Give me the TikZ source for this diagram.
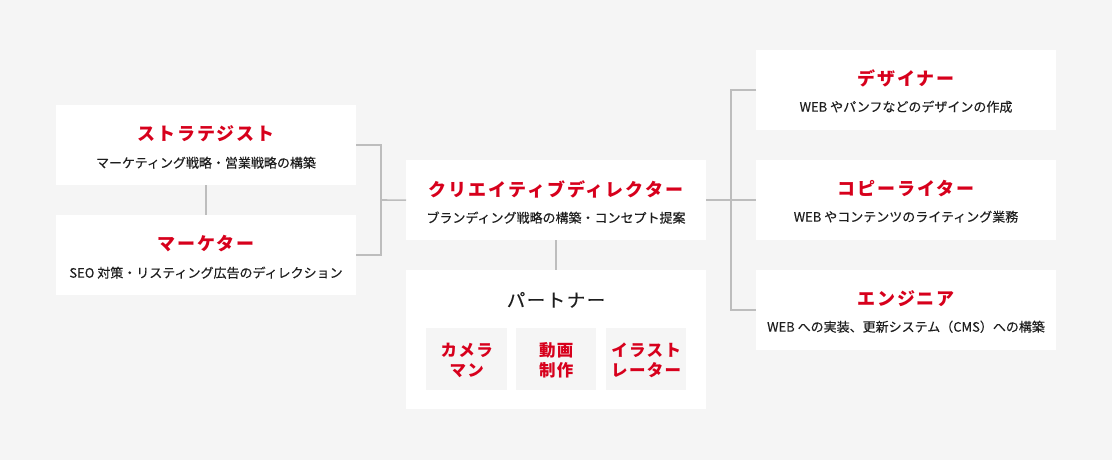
\documentclass[tikz,border=0pt]{standalone}
\usepackage{fontspec}
\setmainfont{Noto Sans CJK JP}
\newfontfamily\jpsp{Noto Sans CJK JP}[LetterSpace=11]
\newfontfamily\jpsb{Noto Sans CJK JP}[LetterSpace=8]
\newfontfamily\jpmd{Noto Sans CJK JP}[FakeBold=0.25]
\newfontfamily\jpmdsp{Noto Sans CJK JP}[FakeBold=0.25,LetterSpace=8]
\definecolor{bgc}{HTML}{F5F5F5}
\definecolor{redc}{HTML}{D7001C}
\definecolor{txtc}{HTML}{1E1E1E}
\definecolor{linec}{HTML}{BDBDBD}
\begin{document}
\begin{tikzpicture}[x=1pt,y=-1pt,
  box/.style={fill=white,draw=none,minimum width=300pt,minimum height=80pt,inner sep=0pt,anchor=north west},
  subbox/.style={fill=bgc,draw=none,minimum width=80pt,minimum height=62pt,inner sep=0pt,anchor=north west},
  ttl/.style={anchor=base,inner sep=0pt,text=redc,font=\jpsp\bfseries\fontsize{18}{20}\selectfont},
  sub/.style={anchor=base,inner sep=0pt,text=txtc,font=\jpmd\fontsize{13}{15}\selectfont},
  ptl/.style={anchor=base,inner sep=0pt,text=txtc,font=\jpmdsp\fontsize{18.5}{20}\selectfont},
  stl/.style={anchor=center,inner sep=0pt,text=redc,align=center,font=\jpsb\bfseries\fontsize{16.5}{20}\selectfont},
  conn/.style={draw=linec,line width=1.6pt}]
\fill[bgc] (0,0) rectangle (1112,460);
\useasboundingbox (0,0) rectangle (1112,460);
% boxes
\node[box] (strat) at (56,105) {};
\node[box] (mark) at (56,215) {};
\node[box] (cd) at (406,160) {};
\node[box,minimum height=139pt] (part) at (406,270) {};
\node[box] (des) at (756,50) {};
\node[box] (cop) at (756,160) {};
\node[box] (eng) at (756,270) {};
\node[subbox,minimum width=81pt] (cam) at (426,328) {};
\node[subbox] (movie) at (516,328) {};
\node[subbox] (illu) at (606,328) {};
% texts
\node[ttl] (stratT) at (206,140.5) {ストラテジスト};
\node[sub] (stratS) at (206,167.7) {マーケティング戦略・営業戦略の構築};
\node[ttl] (markT) at (206,250.5) {マーケター};
\node[sub] (markS) at (206,277.7) {SEO 対策・リスティング広告のディレクション};
\node[ttl] (cdT) at (556,196.5) {クリエイティブディレクター};
\node[sub] (cdS) at (556,222.7) {ブランディング戦略の構築・コンセプト提案};
\node[ptl] (partT) at (556,307) {パートナー};
\node[stl] (camT) at ([yshift=-1.5pt]cam.center) {カメラ\\マン};
\node[stl] (movieT) at ([yshift=-1.5pt]movie.center) {動画\\制作};
\node[stl] (illuT) at ([yshift=-1.5pt]illu.center) {イラスト\\レーター};
\node[ttl] (desT) at (906,85.5) {デザイナー};
\node[sub] (desS) at (906,111.7) {WEB やパンフなどのデザインの作成};
\node[ttl] (copT) at (906,195.5) {コピーライター};
\node[sub] (copS) at (906,221.7) {WEB やコンテンツのライティング業務};
\node[ttl] (engT) at (906,305.5) {エンジニア};
\node[sub] (engS) at (906,331.7) {WEB への実装、更新システム（CMS）への構築};
% connectors
\coordinate (bl) at (381,200);
\coordinate (br) at (731,200);
\draw[conn] (strat.south) -- (mark.north);
\draw[conn] (strat.east) -| (bl) |- (mark.east);
\draw[conn] (bl) -- (cd.west);
\draw[conn] (cd.south) -- (part.north);
\draw[conn] (cd.east) -- (cop.west);
\draw[conn] (des.west) -| (br) |- (eng.west);
\end{tikzpicture}
\end{document}
